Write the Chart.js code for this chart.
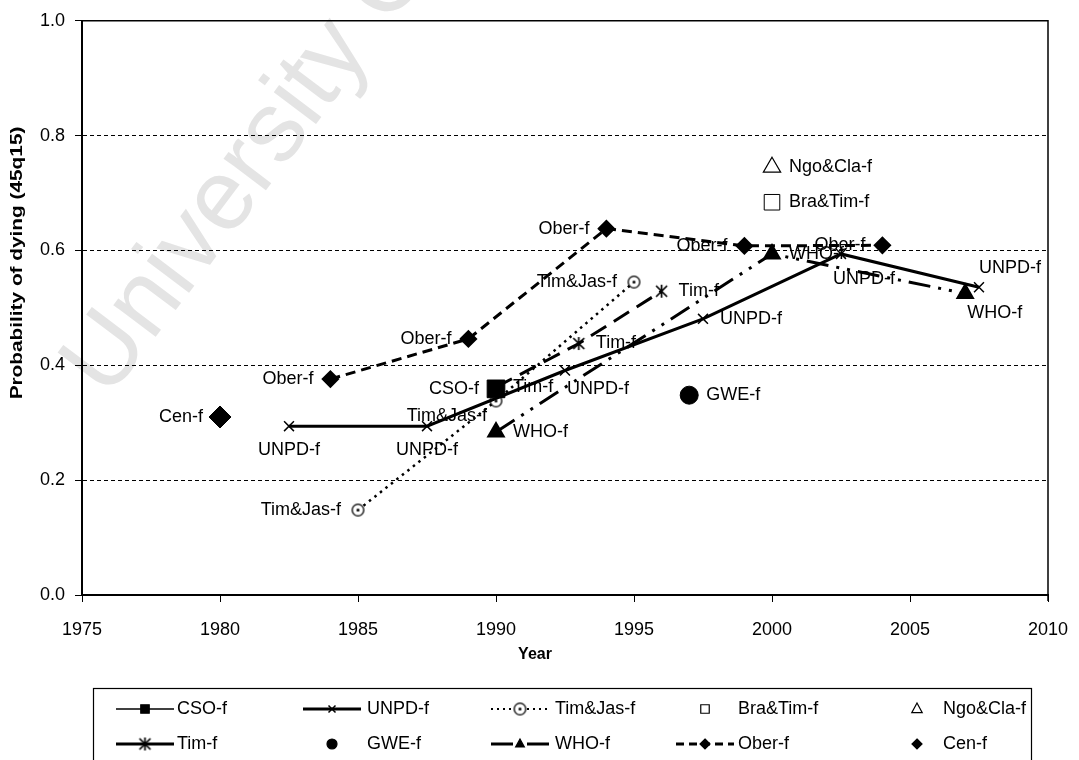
<!DOCTYPE html>
<html>
<head>
<meta charset="utf-8">
<script src="https://cdn.jsdelivr.net/npm/chart.js@4.4.1/dist/chart.umd.min.js"></script>
<style>
  html, body { margin: 0; padding: 0; background: #fff; }
  canvas { display: block; }
</style>
</head>
<body>
<canvas id="chart" width="1079" height="760"></canvas>
<script>
// values: x = year, y = probability of dying (45q15)
const csoYears = [1990];
const csoValues = [0.359];
const unpdYears = [1982.5, 1987.5, 1992.5, 1997.5, 2002.5, 2007.5];
const unpdValues = [0.294, 0.294, 0.391, 0.481, 0.594, 0.536];
const timJasYears = [1985, 1990, 1995];
const timJasValues = [0.148, 0.338, 0.545];
const braTimYears = [2000];
const braTimValues = [0.684];
const ngoClaYears = [2000];
const ngoClaValues = [0.745];
const timYears = [1990, 1993, 1996];
const timValues = [0.362, 0.438, 0.529];
const gweYears = [1997];
const gweValues = [0.348];
const whoYears = [1990, 2000, 2007];
const whoValues = [0.284, 0.594, 0.525];
const oberYears = [1984, 1989, 1994, 1999, 2004];
const oberValues = [0.376, 0.446, 0.638, 0.608, 0.609];
const cenYears = [1980];
const cenValues = [0.31];

const xMin = 1975, xMax = 2010, xStep = 5;
const yMin = 0, yMax = 1, yStep = 0.2;

// where each point's label sits: l / r / b / bs / br / bl / ar
const csoSpots = ['l'];
const unpdSpots = ['b', 'b', 'br', 'r', 'bs', 'ar'];
const timJasSpots = ['l', 'bl', 'l'];
const braTimSpots = ['r'];
const ngoClaSpots = ['r'];
const timSpots = ['r', 'r', 'r'];
const gweSpots = ['r'];
const whoSpots = ['r', 'r', 'br'];
const oberSpots = ['l', 'l', 'l', 'l', 'l'];
const cenSpots = ['l'];

const FONT = '"Liberation Sans", Arial, sans-serif';

function pts(xs, ys) {
  return xs.map((x, i) => ({ x: x, y: ys[i] }));
}

// open circle with a dot in it
const circleDot = (function () {
  const c = document.createElement('canvas');
  c.width = 15; c.height = 15;
  const g = c.getContext('2d');
  g.lineWidth = 1.3;
  g.strokeStyle = '#000';
  g.fillStyle = '#fff';
  g.beginPath(); g.arc(7.5, 7.5, 5.8, 0, Math.PI * 2); g.fill(); g.stroke();
  g.fillStyle = '#000';
  g.beginPath(); g.arc(7.5, 7.5, 1.5, 0, Math.PI * 2); g.fill();
  return c;
})();

// x with a vertical bar through it
const starMark = (function () {
  const c = document.createElement('canvas');
  c.width = 15; c.height = 15;
  const g = c.getContext('2d');
  g.lineWidth = 1.7;
  g.strokeStyle = '#000';
  g.beginPath();
  g.moveTo(2, 2); g.lineTo(13, 13);
  g.moveTo(13, 2); g.lineTo(2, 13);
  g.moveTo(7.5, 1); g.lineTo(7.5, 14);
  g.stroke();
  return c;
})();

const datasets = [
  { label: 'CSO-f', data: pts(csoYears, csoValues), spots: csoSpots, showLine: false,
    pointStyle: 'rect', pointRadius: 12.5, backgroundColor: '#000', borderColor: '#000' },
  { label: 'UNPD-f', data: pts(unpdYears, unpdValues), spots: unpdSpots, showLine: true,
    borderWidth: 3, borderColor: '#000', backgroundColor: '#000',
    pointStyle: 'crossRot', pointRadius: 7, pointBorderWidth: 1.5 },
  { label: 'Tim&Jas-f', data: pts(timJasYears, timJasValues), spots: timJasSpots, showLine: true,
    borderWidth: 2.5, borderDash: [2.5, 4.5], borderColor: '#000', backgroundColor: '#fff',
    pointStyle: circleDot, pointRadius: 6 },
  { label: 'Bra&Tim-f', data: pts(braTimYears, braTimValues), spots: braTimSpots, showLine: false,
    pointStyle: 'rect', pointRadius: 11, backgroundColor: '#fff', borderColor: '#000', borderWidth: 1 },
  { label: 'Ngo&Cla-f', data: pts(ngoClaYears, ngoClaValues), spots: ngoClaSpots, showLine: false,
    pointStyle: 'triangle', pointRadius: 10, backgroundColor: '#fff', borderColor: '#000', borderWidth: 1.2 },
  { label: 'Tim-f', data: pts(timYears, timValues), spots: timSpots, showLine: true,
    borderWidth: 3, borderDash: [18, 9], borderColor: '#000', backgroundColor: '#000',
    pointStyle: starMark, pointRadius: 7 },
  { label: 'GWE-f', data: pts(gweYears, gweValues), spots: gweSpots, showLine: false,
    pointStyle: 'circle', pointRadius: 9, backgroundColor: '#000', borderColor: '#000' },
  { label: 'WHO-f', data: pts(whoYears, whoValues), spots: whoSpots, showLine: true,
    borderWidth: 3, borderDash: [22, 8, 3, 8, 3, 8], borderColor: '#000', backgroundColor: '#000',
    pointStyle: 'triangle', pointRadius: 8 },
  { label: 'Ober-f', data: pts(oberYears, oberValues), spots: oberSpots, showLine: true,
    borderWidth: 3, borderDash: [10, 6], borderColor: '#000', backgroundColor: '#000',
    pointStyle: 'rectRot', pointRadius: 7 },
  { label: 'Cen-f', data: pts(cenYears, cenValues), spots: cenSpots, showLine: false,
    pointStyle: 'rectRot', pointRadius: 11, backgroundColor: '#000', borderColor: '#000' }
];

// legend grid: dataset index, row, column, sample line
const legendItems = [
  { ds: 0, row: 0, col: 0, line: { w: 1.5, dash: [] }, r: 6 },
  { ds: 1, row: 0, col: 1, line: { w: 3, dash: [] }, r: 5 },
  { ds: 2, row: 0, col: 2, line: { w: 2, dash: [2, 4] }, r: 5 },
  { ds: 3, row: 0, col: 3, line: null, r: 6 },
  { ds: 4, row: 0, col: 4, line: null, r: 6 },
  { ds: 5, row: 1, col: 0, line: { w: 3, dash: [] }, r: 5 },
  { ds: 6, row: 1, col: 1, line: null, r: 5 },
  { ds: 7, row: 1, col: 2, line: { w: 3, dash: [22, 6, 2, 6] }, r: 5 },
  { ds: 8, row: 1, col: 3, line: { w: 3, dash: [8, 5] }, r: 5 },
  { ds: 9, row: 1, col: 4, line: null, r: 5 }
];
const legendCols = [145, 332, 520, 705, 917];
const legendText = [177, 367, 555, 738, 943];
const legendRows = [709, 744];

function drawMarker(ctx, style, r, x, y, fill) {
  if (style instanceof HTMLCanvasElement) {
    ctx.drawImage(style, x - style.width / 2, y - style.height / 2);
    return;
  }
  ctx.save();
  ctx.setLineDash([]);
  ctx.lineWidth = 1.2;
  ctx.strokeStyle = '#000';
  ctx.fillStyle = fill;
  ctx.beginPath();
  if (style === 'rect') {
    const s = r * Math.SQRT1_2;
    ctx.rect(x - s, y - s, 2 * s, 2 * s);
  } else if (style === 'rectRot') {
    ctx.moveTo(x, y - r); ctx.lineTo(x + r, y); ctx.lineTo(x, y + r); ctx.lineTo(x - r, y); ctx.closePath();
  } else if (style === 'triangle') {
    ctx.moveTo(x, y - r); ctx.lineTo(x + r * 0.87, y + r * 0.6); ctx.lineTo(x - r * 0.87, y + r * 0.6); ctx.closePath();
  } else if (style === 'circle') {
    ctx.arc(x, y, r, 0, Math.PI * 2);
  } else if (style === 'crossRot') {
    ctx.moveTo(x - r * 0.7, y - r * 0.7); ctx.lineTo(x + r * 0.7, y + r * 0.7);
    ctx.moveTo(x + r * 0.7, y - r * 0.7); ctx.lineTo(x - r * 0.7, y + r * 0.7);
    ctx.lineWidth = 1.5;
    ctx.stroke();
    ctx.restore();
    return;
  }
  ctx.fill();
  ctx.stroke();
  ctx.restore();
}

const decor = {
  id: 'decor',
  beforeDraw(chart) {
    const ctx = chart.ctx;
    ctx.save();
    ctx.fillStyle = '#fff';
    ctx.fillRect(0, 0, chart.width, chart.height);
    // faint watermark
    ctx.translate(108, 400);
    ctx.rotate(-53 * Math.PI / 180);
    ctx.font = '100px ' + FONT;
    ctx.fillStyle = '#e4e4e4';
    ctx.textBaseline = 'alphabetic';
    ctx.fillText('University Of Cape Town', 0, 0);
    ctx.restore();
  },
  beforeDatasetsDraw(chart) {
    const ctx = chart.ctx, a = chart.chartArea;
    ctx.save();
    ctx.strokeStyle = '#000';
    ctx.lineWidth = 1.5;
    ctx.beginPath();
    ctx.moveTo(a.left, a.top);
    ctx.lineTo(a.right, a.top);
    ctx.lineTo(a.right, a.bottom + 6);
    ctx.stroke();
    ctx.restore();
  },
  afterDatasetsDraw(chart) {
    const ctx = chart.ctx;
    ctx.save();
    ctx.font = '18px ' + FONT;
    ctx.fillStyle = '#000';
    ctx.textBaseline = 'middle';
    chart.data.datasets.forEach((ds, i) => {
      const meta = chart.getDatasetMeta(i);
      meta.data.forEach((el, j) => {
        const spot = ds.spots[j];
        const gap = 17;
        let tx = el.x, ty = el.y, align = 'left';
        if (spot === 'l') { tx = el.x - gap; align = 'right'; }
        else if (spot === 'r') { tx = el.x + gap; }
        else if (spot === 'b') { ty = el.y + 24; align = 'center'; }
        else if (spot === 'bs') { tx = el.x - 8; ty = el.y + 25; }
        else if (spot === 'br') { tx = el.x + 2; ty = el.y + 19; }
        else if (spot === 'bl') { tx = el.x - 9; ty = el.y + 15; align = 'right'; }
        else if (spot === 'ar') { ty = el.y - 19; }
        ctx.textAlign = align;
        ctx.fillText(ds.label, tx, ty);
      });
    });
    ctx.restore();
  },
  afterDraw(chart) {
    const ctx = chart.ctx;
    ctx.save();
    ctx.font = 'bold 16px ' + FONT;
    ctx.fillStyle = '#000';
    ctx.textAlign = 'center';
    ctx.textBaseline = 'middle';
    // x axis title
    ctx.fillText('Year', 535, 655);
    // y axis title, drawn a bit long like the original
    ctx.translate(18, 263);
    ctx.rotate(-Math.PI / 2);
    ctx.scale(1.3, 1);
    ctx.fillText('Probability of dying (45q15)', 0, 0);
    ctx.restore();

    // legend box
    ctx.save();
    ctx.strokeStyle = '#000';
    ctx.lineWidth = 1.2;
    ctx.strokeRect(93.5, 688.5, 938, 90);
    ctx.font = '18px ' + FONT;
    ctx.textBaseline = 'middle';
    ctx.textAlign = 'left';
    legendItems.forEach(it => {
      const ds = chart.data.datasets[it.ds];
      const cx = legendCols[it.col], cy = legendRows[it.row];
      if (it.line) {
        ctx.save();
        ctx.strokeStyle = '#000';
        ctx.lineWidth = it.line.w;
        ctx.setLineDash(it.line.dash);
        ctx.beginPath();
        ctx.moveTo(cx - 29, cy);
        ctx.lineTo(cx + 29, cy);
        ctx.stroke();
        ctx.restore();
      }
      drawMarker(ctx, ds.pointStyle, it.r, cx, cy, ds.backgroundColor);
      ctx.fillStyle = '#000';
      ctx.fillText(ds.label, legendText[it.col], cy);
    });
    ctx.restore();
  }
};

const tickFont = { family: FONT, size: 18 };

new Chart(document.getElementById('chart'), {
  type: 'scatter',
  data: { datasets: datasets },
  options: {
    responsive: false,
    animation: false,
    layout: { padding: { top: 20, right: 31, bottom: 95, left: 0 } },
    plugins: { legend: { display: false }, tooltip: { enabled: false } },
    scales: {
      x: {
        type: 'linear', min: xMin, max: xMax,
        ticks: { stepSize: xStep, font: tickFont, color: '#000', padding: 17, callback: v => String(v) },
        grid: { drawOnChartArea: false, tickLength: 7, color: '#000', tickColor: '#000' },
        border: { color: '#000', width: 2 },
        afterFit: s => { s.height = 70; s.paddingLeft = 0; s.paddingRight = 0; }
      },
      y: {
        type: 'linear', min: yMin, max: yMax,
        ticks: { stepSize: yStep, font: tickFont, color: '#000', padding: 10, callback: v => v.toFixed(1) },
        grid: { color: '#000', lineWidth: 1, tickLength: 7, tickColor: '#000' },
        border: { color: '#000', width: 2, dash: [4, 3] },
        afterFit: s => { s.width = 82; }
      }
    }
  },
  plugins: [decor]
});
</script>
</body>
</html>
